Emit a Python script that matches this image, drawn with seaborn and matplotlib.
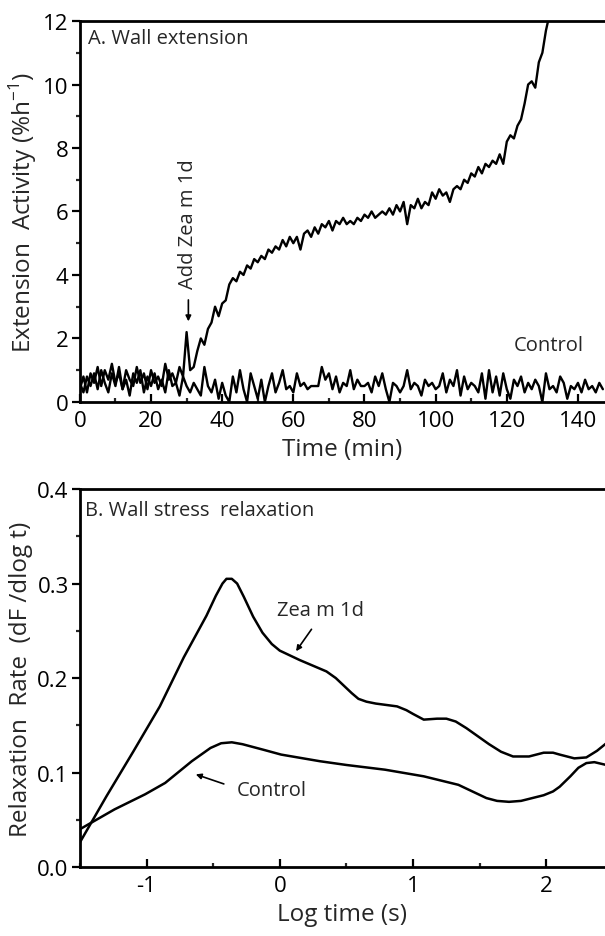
import numpy as np
import pandas as pd
import matplotlib
matplotlib.use("Agg")
import matplotlib.pyplot as plt
import seaborn as sns
from matplotlib.ticker import MultipleLocator, FormatStrFormatter

# panel A: wall extension (per-minute readings)
control_a = [0.6, 0.3, 0.8, 0.5, 0.9, 0.4, 1.0, 0.6, 0.3, 0.9,
             0.5, 1.1, 0.4, 0.7, 0.2, 0.9, 0.6, 1.0, 0.3, 0.8,
             0.5, 0.9, 0.4, 0.7, 0.3, 1.0, 0.5, 0.6, 0.2, 0.8,
             0.5, 0.3, 0.6, 0.4, 0.2, 1.1, 0.5, 0.3, 0.7, 0.1,
             0.6, 0.2, 0.0, 0.8, 0.3, 1.0, 0.4, 0.0, 0.9, 0.5,
             0.1, 0.7, 0.0, 0.5, 0.9, 0.3, 0.6, 1.0, 0.4, 0.5,
             0.3, 0.9, 0.5, 0.6, 0.4, 0.5, 0.5, 0.5, 1.1, 0.7,
             0.9, 0.4, 0.8, 0.3, 0.6, 0.5, 1.0, 0.4, 0.7, 0.5,
             0.5, 0.6, 0.3, 0.8, 0.5, 0.9, 0.4, 0.0, 0.6, 0.5,
             0.3, 0.5, 1.0, 0.4, 0.6, 0.5, 0.2, 0.7, 0.5, 0.6,
             0.4, 0.5, 0.9, 0.3, 0.7, 0.5, 1.0, 0.2, 0.8, 0.4,
             0.6, 0.5, 0.3, 0.9, 0.1, 1.0, 0.3, 0.8, 0.2, 0.9,
             0.4, 0.1, 0.7, 0.5, 0.8, 0.3, 0.6, 0.4, 0.7, 0.5,
             0.0, 0.9, 0.4, 0.5, 0.3, 0.8, 0.6, 0.1, 0.5, 0.4,
             0.6, 0.3, 0.7, 0.4, 0.5, 0.3, 0.6, 0.4]
zea_a = [0.4, 0.8, 0.3, 0.9, 0.6, 1.1, 0.5, 1.0, 0.7, 1.2,
         0.6, 0.9, 0.4, 1.0, 0.7, 0.5, 1.1, 0.6, 0.9, 0.4,
         1.0, 0.6, 0.8, 0.5, 1.2, 0.7, 0.9, 0.6, 1.1, 0.8,
         2.2, 1.0, 1.1, 1.6, 2.0, 1.8, 2.3, 2.5, 3.0, 2.7,
         3.1, 3.2, 3.7, 3.9, 3.8, 4.1, 4.0, 4.3, 4.2, 4.5,
         4.4, 4.6, 4.5, 4.8, 4.7, 4.9, 4.8, 5.1, 4.9, 5.2,
         5.0, 5.2, 4.8, 5.3, 5.4, 5.2, 5.5, 5.3, 5.6, 5.5,
         5.7, 5.4, 5.7, 5.6, 5.8, 5.6, 5.7, 5.6, 5.8, 5.7,
         5.9, 5.8, 6.0, 5.8, 5.9, 6.0, 5.9, 6.1, 5.9, 6.2,
         6.0, 6.3, 5.6, 6.2, 6.1, 6.4, 6.1, 6.3, 6.2, 6.6,
         6.4, 6.7, 6.5, 6.6, 6.3, 6.7, 6.8, 6.7, 7.0, 6.9,
         7.2, 7.1, 7.4, 7.2, 7.5, 7.4, 7.6, 7.5, 7.8, 7.5,
         8.2, 8.4, 8.3, 8.7, 8.9, 9.4, 10.0, 10.1, 9.9, 10.7,
         11.0, 11.7, 12.2]
time_control = np.arange(len(control_a))
time_zea = np.arange(len(zea_a))

# panel B: stress relaxation spectra
logt_zea = [-1.5, -1.3, -1.1, -0.9, -0.72, -0.55, -0.48, -0.43, -0.40, -0.36,
            -0.32, -0.27, -0.20, -0.13, -0.06, 0.0, 0.15, 0.35, 0.42, 0.48,
            0.54, 0.59, 0.65, 0.72, 0.88, 0.95, 1.0, 1.08, 1.18, 1.25,
            1.32, 1.40, 1.47, 1.57, 1.66, 1.75, 1.87, 1.98, 2.05, 2.1,
            2.21, 2.3, 2.38, 2.45]
rate_zea = [0.026, 0.075, 0.122, 0.170, 0.222, 0.266, 0.287, 0.300, 0.305, 0.305,
            0.300, 0.286, 0.265, 0.248, 0.236, 0.229, 0.219, 0.207, 0.200, 0.192,
            0.184, 0.178, 0.175, 0.173, 0.170, 0.166, 0.162, 0.156, 0.157, 0.157,
            0.154, 0.147, 0.140, 0.130, 0.122, 0.117, 0.117, 0.121, 0.121, 0.119,
            0.115, 0.116, 0.123, 0.131]
logt_ctrl = [-1.5, -1.24, -1.01, -0.86, -0.66, -0.52, -0.44, -0.36, -0.28, -0.12,
             0.01, 0.30, 0.50, 0.79, 1.08, 1.34, 1.46, 1.55, 1.63, 1.72,
             1.81, 1.98, 2.05, 2.10, 2.18, 2.24, 2.30, 2.36, 2.45]
rate_ctrl = [0.040, 0.061, 0.077, 0.089, 0.112, 0.126, 0.131, 0.132, 0.130, 0.124,
             0.119, 0.112, 0.108, 0.103, 0.096, 0.087, 0.079, 0.073, 0.070, 0.069,
             0.070, 0.076, 0.080, 0.085, 0.096, 0.105, 0.110, 0.111, 0.108]

sns.set_style("ticks")
plt.rcParams['font.family'] = ['Open Sans', 'DejaVu Sans']
plt.rcParams['mathtext.fontset'] = 'custom'
plt.rcParams['mathtext.rm'] = 'Open Sans'
plt.rcParams['axes.unicode_minus'] = False

fig = plt.figure(figsize=(6.05, 9.37), dpi=100)
ax1 = fig.add_axes([0.132, 0.570, 0.868, 0.4065])
ax2 = fig.add_axes([0.132, 0.0736, 0.868, 0.4034])

df_a = pd.concat([
    pd.DataFrame({"time": time_control, "rate": control_a, "set": "Control"}),
    pd.DataFrame({"time": time_zea, "rate": zea_a, "set": "Zea m 1d"}),
])
sns.lineplot(data=df_a, x="time", y="rate", units="set", estimator=None,
             color="black", lw=1.7, ax=ax1, legend=False)

df_b = pd.concat([
    pd.DataFrame({"logt": logt_ctrl, "rate": rate_ctrl, "set": "Control"}),
    pd.DataFrame({"logt": logt_zea, "rate": rate_zea, "set": "Zea m 1d"}),
])
sns.lineplot(data=df_b, x="logt", y="rate", units="set", estimator=None, sort=False,
             color="black", lw=1.8, ax=ax2, legend=False)

for ax in (ax1, ax2):
    for side in ("left", "bottom", "top"):
        ax.spines[side].set_visible(True)
        ax.spines[side].set_linewidth(2.0)
        ax.spines[side].set_color("black")
    ax.spines["right"].set_visible(False)
    ax.tick_params(axis="x", which="major", direction="in", length=6, width=1.6,
                   labelsize=16, pad=6, colors="black")
    ax.tick_params(axis="x", which="minor", direction="in", length=3, width=1.6)
    ax.tick_params(axis="y", which="major", direction="out", length=6, width=1.6,
                   labelsize=16, pad=2, colors="black")
    ax.tick_params(axis="y", which="minor", direction="out", length=3, width=1.6)

ax1.set_xlim(0, 147.6)
ax1.set_ylim(0, 12)
ax1.xaxis.set_major_locator(MultipleLocator(20))
ax1.xaxis.set_minor_locator(MultipleLocator(10))
ax1.yaxis.set_major_locator(MultipleLocator(2))
ax1.yaxis.set_minor_locator(MultipleLocator(1))
ax1.set_xlabel("Time (min)", fontsize=17.5, labelpad=4)
ax1.set_ylabel("Extension  Activity (%h$^{-1}$)", fontsize=17.5, labelpad=3)
ax1.text(2.2, 11.45, "A. Wall extension", fontsize=14.5, va="center", ha="left")
ax1.text(30.5, 3.6, "Add Zea m 1d", rotation=90, fontsize=14.5, ha="center", va="bottom")
ax1.annotate("", xy=(30.5, 2.45), xytext=(30.5, 3.3),
             arrowprops=dict(arrowstyle="-|>", color="black", lw=1.2, mutation_scale=8))
ax1.text(122, 1.8, "Control", fontsize=14.5, ha="left", va="center")

ax2.set_xlim(-1.5, 2.44)
ax2.set_ylim(0, 0.4)
ax2.xaxis.set_major_locator(MultipleLocator(1))
ax2.xaxis.set_minor_locator(MultipleLocator(0.5))
ax2.yaxis.set_major_locator(MultipleLocator(0.1))
ax2.yaxis.set_minor_locator(MultipleLocator(0.05))
ax2.yaxis.set_major_formatter(FormatStrFormatter("%.1f"))
ax2.set_xlabel("Log time (s)", fontsize=17.5, labelpad=4)
ax2.set_ylabel("Relaxation  Rate  (dF /dlog t)", fontsize=17.5, labelpad=3)
ax2.text(-1.46, 0.378, "B. Wall stress  relaxation", fontsize=14.5, va="center", ha="left")
ax2.text(-0.02, 0.272, "Zea m 1d", fontsize=14.5, ha="left", va="center")
ax2.annotate("", xy=(0.11, 0.226), xytext=(0.25, 0.254),
             arrowprops=dict(arrowstyle="-|>", color="black", lw=1.2, mutation_scale=8))
ax2.text(-0.32, 0.082, "Control", fontsize=14.5, ha="left", va="center")
ax2.annotate("", xy=(-0.65, 0.099), xytext=(-0.40, 0.087),
             arrowprops=dict(arrowstyle="-|>", color="black", lw=1.2, mutation_scale=8))

fig.savefig("out.png", dpi=100)
